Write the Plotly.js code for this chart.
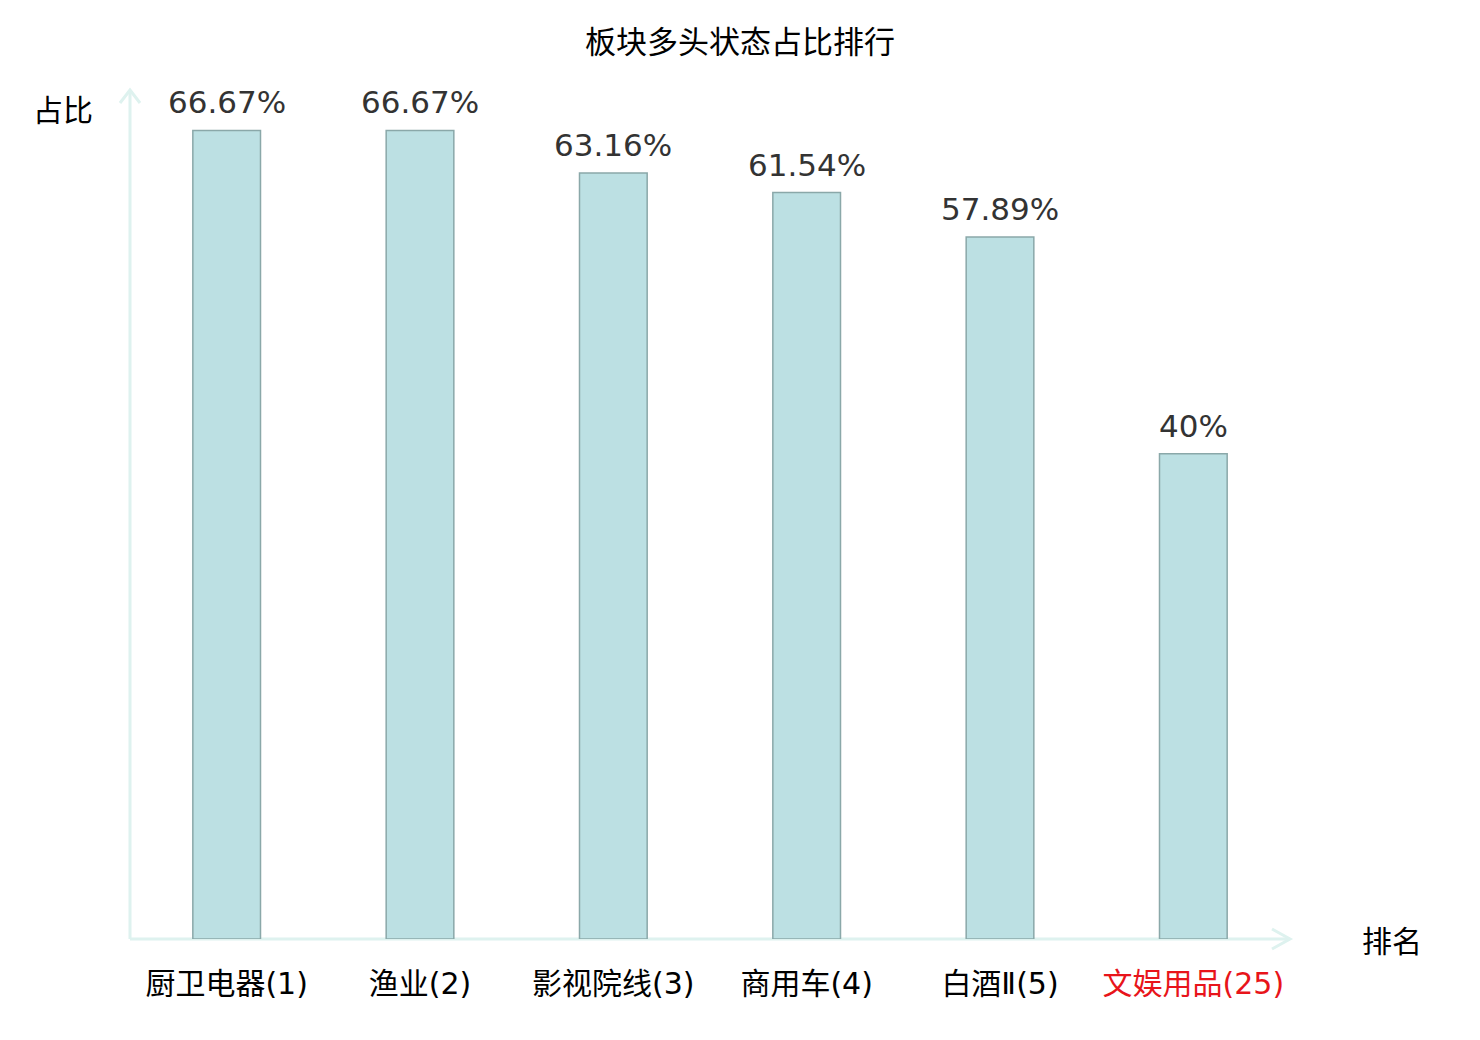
<!DOCTYPE html>
<html>
<head>
<meta charset="utf-8">
<script src="https://cdn.plot.ly/plotly-3.0.1.min.js"></script>
<style>
  body { margin: 0; background: #fff; }
  #chart { width: 1480px; height: 1040px; }
</style>
</head>
<body>
<div id="chart"></div>
<script>
const sectors = ["厨卫电器(1)", "渔业(2)", "影视院线(3)", "商用车(4)", "白酒Ⅱ(5)", "文娱用品(25)"];
const ratios = [66.67, 66.67, 63.16, 61.54, 57.89, 40];
const ratioLabels = ["66.67%", "66.67%", "63.16%", "61.54%", "57.89%", "40%"];
const highlight = "文娱用品(25)";

const baseFont = "DejaVu Sans, Noto Sans CJK SC, sans-serif";
const cjkFont = "Noto Sans CJK SC, DejaVu Sans, sans-serif";
const axisColor = "#def2ef";

// last sector is the one we care about -> red tick label
const tickText = sectors.map(s => s === highlight ? `<span style="color:#e8141a">${s}</span>` : s);

const trace = {
    x: sectors,
    y: ratios,
    type: 'bar',
    width: 0.35,
    marker: {
        color: '#bce0e3',
        line: { color: '#8aa8a9', width: 1.5 }
    },
    hoverinfo: 'none'
};

// value labels above bars
const valueNotes = sectors.map((s, i) => ({
    x: s,
    y: ratios[i],
    xref: 'x',
    yref: 'y',
    text: ratioLabels[i],
    showarrow: false,
    xanchor: 'center',
    yanchor: 'bottom',
    yshift: 8,
    font: { family: baseFont, size: 31, color: '#333333' }
}));

const layout = {
    width: 1480,
    height: 1040,
    margin: { l: 130, r: 190, t: 90, b: 101 },
    paper_bgcolor: '#ffffff',
    plot_bgcolor: '#ffffff',
    showlegend: false,
    font: { family: baseFont, color: '#000000' },
    title: {
        text: '板块多头状态占比排行',
        x: 0.5,
        xanchor: 'center',
        y: 0.959,
        yanchor: 'middle',
        font: { family: cjkFont, size: 31, color: '#000000' }
    },
    xaxis: {
        tickvals: sectors,
        ticktext: tickText,
        showgrid: false,
        zeroline: false,
        showline: false,
        ticks: '',
        ticklabelstandoff: 24,
        tickfont: { family: baseFont, size: 30, color: '#000000' },
        fixedrange: true
    },
    yaxis: {
        range: [0, 70],
        showgrid: false,
        zeroline: false,
        showline: false,
        showticklabels: false,
        ticks: '',
        fixedrange: true
    },
    shapes: [
        // axis lines
        { type: 'line', xref: 'paper', yref: 'paper', x0: 0, y0: 0, x1: 1, y1: 0,
          line: { color: axisColor, width: 3 }, layer: 'below' },
        { type: 'line', xref: 'paper', yref: 'paper', x0: 0, y0: 0, x1: 0, y1: 1,
          line: { color: axisColor, width: 3 }, layer: 'below' },
        // arrow heads
        { type: 'path', xref: 'paper', yref: 'paper', xsizemode: 'pixel', ysizemode: 'pixel',
          xanchor: 1, yanchor: 0, path: 'M -18 10 L 0 0 L -18 -10',
          line: { color: axisColor, width: 3 } },
        { type: 'path', xref: 'paper', yref: 'paper', xsizemode: 'pixel', ysizemode: 'pixel',
          xanchor: 0, yanchor: 1, path: 'M -10 -13 L 0 0 L 10 -13',
          line: { color: axisColor, width: 3 } }
    ],
    annotations: valueNotes.concat([
        { text: '占比', xref: 'paper', yref: 'paper', x: -0.058, y: 0.979,
          xanchor: 'center', yanchor: 'middle', showarrow: false,
          font: { family: cjkFont, size: 30, color: '#000000' } },
        { text: '排名', xref: 'paper', yref: 'paper', x: 1.088, y: 0.0005,
          xanchor: 'center', yanchor: 'middle', showarrow: false,
          font: { family: cjkFont, size: 30, color: '#000000' } }
    ])
};

const config = { displayModeBar: false, staticPlot: true };

Plotly.newPlot('chart', [trace], layout, config);
</script>
</body>
</html>
